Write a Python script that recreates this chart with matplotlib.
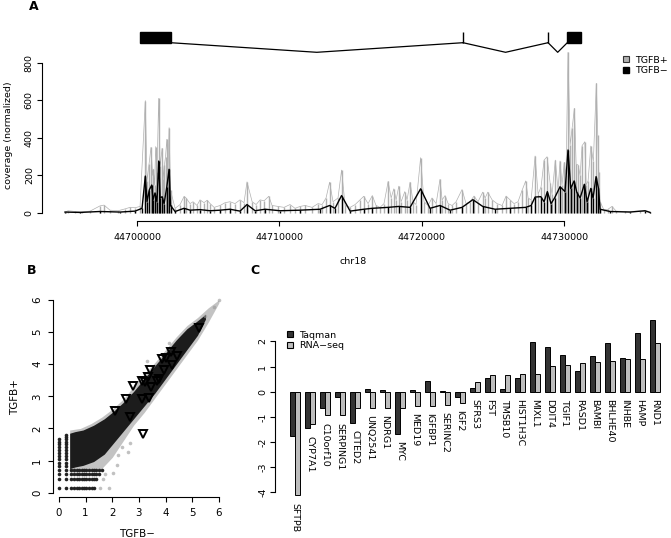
import numpy as np
import matplotlib.pyplot as plt
from matplotlib.patches import Rectangle
from matplotlib.lines import Line2D

plt.rcParams['font.family'] = 'DejaVu Sans'
plt.rcParams['font.size'] = 6.8

# ---- panel A: coverage around the gene (kb offset from 44,700,000) ----
chrom_start = 44700000
plus_kb = [-5.02, -4.85, -4.35, -3.86, -3.30, -2.60, -2.32, -1.90, -1.33, -0.84, -0.49, -0.14, 0.21,
           0.58, 0.70, 0.84, 0.98, 1.09, 1.14, 1.23, 1.31, 1.40, 1.52, 1.62, 1.76, 1.83, 1.92, 2.00,
           2.09, 2.18, 2.25, 2.35, 2.67, 3.02, 3.30, 3.44, 3.72, 3.93, 4.21, 4.42, 4.70, 4.92, 5.13,
           5.41, 5.83, 6.18, 6.53, 6.88, 7.23, 7.51, 7.72, 8.08, 8.36, 8.64, 8.92, 9.25, 9.48, 9.90,
           10.32, 10.74, 11.09, 11.45, 11.80, 12.29, 12.71, 12.99, 13.27, 13.52, 13.76, 14.11, 14.36,
           14.61, 14.96, 15.31, 15.66, 15.92, 16.22, 16.52, 16.78, 17.06, 17.34, 17.63, 17.84, 18.03,
           18.19, 18.38, 18.54, 18.80, 18.96, 19.17, 19.38, 19.59, 19.91, 20.15, 20.43, 20.71, 21.00,
           21.27, 21.42, 21.63, 21.84, 22.12, 22.40, 22.82, 23.10, 23.38, 23.66, 23.94, 24.27, 24.44,
           24.63, 24.93, 25.28, 25.63, 25.91, 26.19, 26.47, 26.75, 27.03, 27.29, 27.46, 27.67, 27.95,
           28.16, 28.37, 28.58, 28.79, 29.00, 29.14, 29.37, 29.56, 29.70, 29.84, 30.00, 30.12, 30.26,
           30.41, 30.55, 30.71, 30.83, 30.97, 31.11, 31.25, 31.44, 31.53, 31.67, 31.86, 32.04, 32.25,
           32.35, 32.42, 32.51, 32.79, 33.07, 33.35, 33.64, 34.27, 35.32, 36.02]
plus_cov = [5, 12, 8, 6, 10, 38, 42, 15, 12, 22, 30, 28, 35,
            599, 170, 261, 350, 200, 234, 150, 354, 220, 611, 250, 345, 180, 256, 300,
            393, 240, 455, 120, 25, 45, 88, 80, 50, 60, 40, 70, 55, 68, 50,
            30, 40, 55, 60, 50, 70, 55, 166, 60, 45, 70, 65, 89, 40, 35,
            30, 45, 25, 35, 40, 30, 50, 45, 80, 164, 60, 80, 229,
            40, 30, 45, 70, 89, 50, 93, 40, 30, 50, 168, 80, 129,
            70, 143, 60, 114, 70, 164, 60, 45, 295, 60, 40, 80, 50,
            179, 70, 93, 50, 40, 60, 125, 50, 60, 90, 60, 111, 80,
            111, 70, 50, 40, 90, 70, 50, 60, 120, 171, 80, 69, 304,
            100, 140, 282, 300, 162, 100, 282, 120, 277, 150, 270, 200, 856,
            362, 455, 558, 260, 256, 200, 359, 380, 150, 171, 357, 277, 691,
            416, 220, 60, 15, 20, 35, 10, 8, 10, 4]

minus_kb = [-5.06, -4.00, -2.60, -1.19, -0.14, 0.35, 0.58, 0.70, 0.86, 1.03, 1.12, 1.26, 1.40, 1.52,
            1.62, 1.76, 1.90, 2.09, 2.25, 2.35, 2.67, 3.30, 3.72, 4.42, 5.13, 5.83, 6.53, 7.23, 7.72,
            8.29, 8.99, 10.04, 11.45, 12.85, 13.52, 13.90, 14.36, 14.96, 15.92, 16.52, 17.63, 18.38,
            19.17, 19.91, 20.57, 21.27, 21.98, 22.82, 23.58, 24.27, 25.14, 26.19, 27.29, 27.67, 27.95,
            28.35, 28.58, 28.81, 29.07, 29.33, 29.70, 30.05, 30.26, 30.45, 30.69, 30.88, 31.11, 31.41,
            31.60, 31.86, 32.02, 32.23, 32.40, 32.51, 33.21, 34.62, 35.67, 36.02]
minus_cov = [5, 3, 8, 5, 10, 25, 197, 60, 123, 149, 70, 107, 60, 277,
             80, 87, 50, 140, 233, 40, 8, 25, 15, 18, 12, 15, 20, 10, 45,
             12, 20, 12, 15, 20, 40, 25, 93, 10, 20, 25, 30, 35,
             30, 129, 25, 40, 15, 30, 71, 35, 20, 25, 30, 40, 85,
             87, 60, 114, 50, 82, 140, 114, 336, 131, 171, 110, 80, 153,
             60, 131, 80, 194, 131, 20, 8, 5, 12, 3]

# gene model: exon (start, end) in kb offset
exons_kb = [(0.21, 2.35), (22.89, 22.89), (28.86, 28.86), (30.21, 31.16)]

# ---- panel B: TGFB- vs TGFB+ expression (log10) ----
cloud_x = [0.4, 0.6, 0.9, 1.3, 1.7, 2.0, 2.4, 2.8, 3.2, 3.6, 4.0, 4.4, 4.8, 5.2, 5.5]
cloud_hi = [1.85, 1.9, 1.95, 2.1, 2.3, 2.5, 2.8, 3.15, 3.55, 3.95, 4.35, 4.75, 5.1, 5.35, 5.55]
cloud_lo = [0.75, 0.8, 0.85, 0.97, 1.2, 1.5, 1.9, 2.3, 2.7, 3.1, 3.55, 4.0, 4.45, 4.9, 5.4]
halo_x = [0.4, 0.8, 1.2, 1.6, 2.0, 2.4, 2.8, 3.2, 3.6, 4.0, 4.4, 4.8, 5.2, 5.6, 6.0]
halo_hi = [1.95, 2.0, 2.15, 2.35, 2.6, 2.9, 3.3, 3.7, 4.05, 4.45, 4.85, 5.2, 5.45, 5.75, 6.0]
halo_lo = [0.65, 0.65, 0.7, 0.75, 1.1, 1.6, 2.1, 2.5, 2.95, 3.4, 3.85, 4.3, 4.75, 5.3, 5.9]
level_y = [0.14, 0.42, 0.58, 0.71, 0.83, 0.93, 1.04, 1.14, 1.23, 1.32, 1.41, 1.5, 1.58, 1.66, 1.73, 1.8]
column_x = [0.0, 0.25]
column_top = [1.66, 1.8]
row_x = [0.45, 0.56, 0.66, 0.76, 0.85, 0.95, 1.03, 1.13, 1.22, 1.32, 1.4, 1.5, 1.6, 1.7, 1.8]
row_y = [0.14, 0.42, 0.58, 0.71]
row_end = [1.35, 1.42, 1.5, 1.6]
stray_x = [1.53, 1.88, 1.65, 1.72, 2.02, 2.17, 2.23, 2.35, 2.6, 2.67, 3.32, 4.14, 5.49, 5.81, 5.99]
stray_y = [0.14, 0.14, 0.42, 0.58, 0.6, 0.86, 1.17, 1.43, 1.28, 1.56, 4.1, 4.65, 5.51, 5.77, 6.0]
tri_x = [5.26, 4.20, 3.88, 4.01, 4.42, 4.26, 3.95, 3.77, 3.68, 3.42, 3.36, 3.11, 3.23, 3.46,
         2.77, 2.51, 3.10, 3.37, 2.12, 2.68, 3.17]
tri_y = [5.12, 4.39, 4.16, 4.18, 4.24, 3.98, 3.82, 3.53, 3.49, 3.82, 3.61, 3.46, 3.44, 3.28,
         3.33, 2.91, 2.91, 2.94, 2.55, 2.37, 1.83]

# ---- panel C: log2 fold change, Taqman vs RNA-seq ----
genes = ['SFTPB', 'CYP7A1', 'C10orf10', 'SERPING1', 'CITED2', 'UNQ2541', 'NDRG1', 'MYC', 'MED19',
         'IGFBP1', 'SERINC2', 'IGF2', 'SFRS3', 'FST', 'TMSB10', 'HIST1H3C', 'MIXL1', 'DDIT4',
         'TGIF1', 'RASD1', 'BAMBI', 'BHLHE40', 'INHBE', 'HAMP', 'RND1']
taqman = [-1.77, -1.44, -0.64, -0.2, -1.24, 0.09, 0.08, -1.67, 0.05, 0.44, 0.04, -0.23, 0.13,
          0.56, 0.1, 0.56, 1.96, 1.76, 1.44, 0.84, 1.41, 1.92, 1.32, 2.32, 2.84]
rnaseq = [-4.1, -1.29, -0.93, -0.93, -0.64, -0.63, -0.63, -0.63, -0.56, -0.56, -0.51, -0.44, 0.37,
          0.65, 0.65, 0.69, 0.72, 1.03, 1.07, 1.15, 1.16, 1.23, 1.31, 1.31, 1.95]

W, H = 671, 538
fig = plt.figure(figsize=(W / 100, H / 100), dpi=100)


def px_axes(left, top, right, bottom):
    return fig.add_axes([left / W, 1 - bottom / H, (right - left) / W, (bottom - top) / H])


def r_style(ax):
    for s in ['top', 'right']:
        ax.spines[s].set_visible(False)
    ax.tick_params(direction='out', length=3.5, width=0.8, pad=2)


# ======== A ========
xlo, xhi = 44693290, 44737000
axA = px_axes(41.5, 50, 664, 221)
plus_pos = chrom_start + np.array(plus_kb) * 1000
minus_pos = chrom_start + np.array(minus_kb) * 1000
axA.vlines(plus_pos, 0, plus_cov, color='#b0b0b0', lw=1.0)
axA.plot(plus_pos, plus_cov, color='#b0b0b0', lw=0.5)
axA.vlines(minus_pos, 0, minus_cov, color='black', lw=1.0)
axA.plot(minus_pos, minus_cov, color='black', lw=1.0)
axA.set_xlim(xlo, xhi)
axA.set_ylim(-42.7, 869)
r_style(axA)
axA.spines['left'].set_bounds(0, 800)
axA.spines['bottom'].set_bounds(44700000, 44730000)
axA.set_yticks([0, 200, 400, 600, 800])
axA.set_yticklabels(['0', '200', '400', '600', '800'], rotation=90, va='center')
axA.set_xticks([44700000, 44710000, 44720000, 44730000])
axA.set_xticklabels(['44700000', '44710000', '44720000', '44730000'])
axA.tick_params(axis='x', pad=5)
axA.set_xlabel('chr18', labelpad=11)
axA.set_ylabel('coverage (normalized)')
axA.yaxis.set_label_coords(-0.046, 0.5)
leg_handles = [Line2D([], [], marker='s', ls='', ms=5, mfc='#b0b0b0', mec='#333333', mew=0.8),
               Line2D([], [], marker='s', ls='', ms=5, mfc='black', mec='black')]
fig.legend(leg_handles, ['TGFB+', 'TGFB\u2212'], loc='upper left',
           bbox_to_anchor=(617 / W, 1 - 51 / H), frameon=False, handlelength=0.8,
           handletextpad=0.6, labelspacing=0.15, borderpad=0, fontsize=6.8)

# gene model
axG = px_axes(41.5, 28, 664, 58)
axG.set_xlim(xlo, xhi)
axG.set_ylim(0, 30)
axG.axis('off')
ex = [(chrom_start + s * 1000, chrom_start + e * 1000) for s, e in exons_kb]
for s, e in ex:
    axG.add_patch(Rectangle((s, 15.3), e - s, 10.4, facecolor='black', edgecolor='black', lw=1))
for (s0, e0), (s1, e1) in zip(ex[:-1], ex[1:]):
    axG.plot([e0, (e0 + s1) / 2, s1], [15.3, 5.7, 15.3], color='black', lw=0.9)

fig.text(34 / W, 1 - 7 / H, 'A', fontsize=9, fontweight='bold', ha='center', va='center')

# ======== B ========
axB = px_axes(52.7, 296, 222, 497.3)
axB.fill_between(halo_x, halo_lo, halo_hi, color='#555555', alpha=0.35, lw=0)
axB.fill_between(cloud_x, cloud_lo, cloud_hi, color='#1c1c1c', lw=0)
for cx, top in zip(column_x, column_top):
    ys = [y for y in level_y if y <= top]
    axB.plot([cx] * len(ys), ys, 'o', color='#222222', ms=2.6, mew=0)
for ry, end in zip(row_y, row_end):
    xs = [x for x in row_x if x <= end]
    axB.plot(xs, [ry] * len(xs), 'o', color='#222222', ms=2.6, mew=0)
axB.plot(stray_x, stray_y, 'o', color='#999999', alpha=0.6, ms=2.6, mew=0)
axB.plot(tri_x, tri_y, 'v', mfc='none', mec='black', ms=5.5, mew=1.4)
axB.set_xlim(-0.237, 6.12)
axB.set_ylim(-0.143, 6.12)
r_style(axB)
axB.spines['left'].set_bounds(0, 6)
axB.spines['bottom'].set_bounds(0, 6)
axB.set_xticks(range(7))
axB.set_yticks(range(7))
axB.set_yticklabels([str(i) for i in range(7)], rotation=90, va='center')
axB.tick_params(labelsize=7.4, pad=4)
axB.set_xlabel('TGFB\u2212', fontsize=7.4, labelpad=8)
axB.set_ylabel('TGFB+', fontsize=7.4, labelpad=9)

fig.text(32 / W, 1 - 271 / H, 'B', fontsize=9, fontweight='bold', ha='center', va='center')

# ======== C ========
axC = px_axes(275, 295, 669, 535)
n = len(genes)
gx = np.arange(n) * 3
axC.bar(gx + 1, taqman, width=1, align='edge', color='#333333', edgecolor='black', lw=0.7)
axC.bar(gx + 2, rnaseq, width=1, align='edge', color='#bdbdbd', edgecolor='black', lw=0.7)
for i, g in enumerate(genes):
    low = min(0, taqman[i], rnaseq[i])
    axC.text(gx[i] + 2, low - 0.3, g, rotation=270, ha='center', va='top', fontsize=6.8)
axC.set_xlim(-2.0, 76.9)
axC.set_ylim(-5.69, 3.84)
for s in ['top', 'right', 'bottom']:
    axC.spines[s].set_visible(False)
axC.spines['left'].set_bounds(-4, 2)
axC.set_xticks([])
axC.set_yticks(range(-4, 3))
axC.set_yticklabels([str(i) for i in range(-4, 3)], rotation=90, va='center')
axC.tick_params(axis='y', direction='out', length=3.5, width=0.8, pad=2)
c_handles = [Line2D([], [], marker='s', ls='', ms=5, mfc='#333333', mec='black', mew=0.8),
             Line2D([], [], marker='s', ls='', ms=5, mfc='#bdbdbd', mec='black', mew=0.8)]
fig.legend(c_handles, ['Taqman', 'RNA\u2212seq'], loc='upper left',
           bbox_to_anchor=(281 / W, 1 - 326 / H), frameon=False, handlelength=0.8,
           handletextpad=0.6, labelspacing=0.15, borderpad=0, fontsize=6.8)

fig.text(255 / W, 1 - 271 / H, 'C', fontsize=9, fontweight='bold', ha='center', va='center')

fig.savefig('out.png', dpi=100)
